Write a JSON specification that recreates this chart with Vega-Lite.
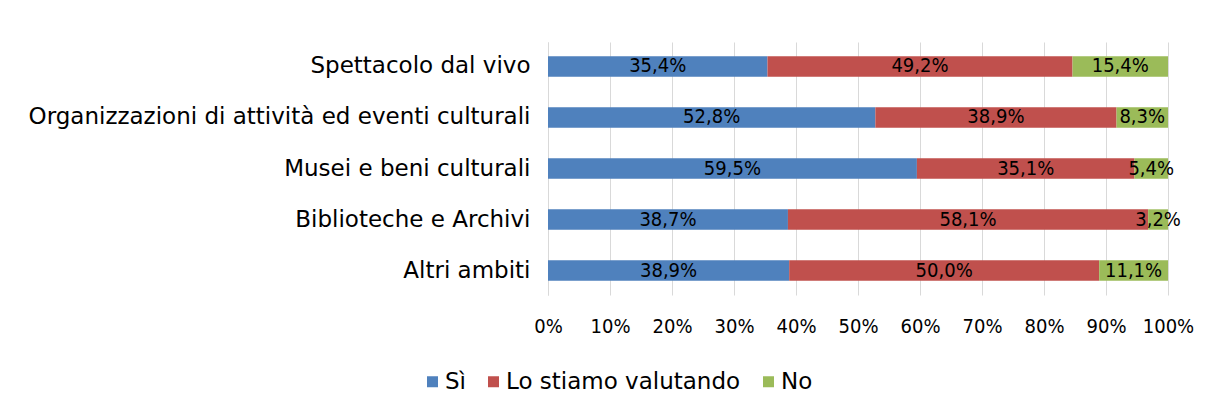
{
  "$schema": "https://vega.github.io/schema/vega-lite/v6.json",
  "width": 620,
  "height": 253,
  "autosize": {"type": "none"},
  "padding": {"left": 548, "top": 42, "right": 44, "bottom": 113},
  "background": "white",
  "config": {
    "locale": {"number": {"decimal": ",", "thousands": ".", "grouping": [3], "currency": ["€", ""]}},
    "view": {"stroke": null}
  },
  "data": {
    "values": [
      {"ambito": "Spettacolo dal vivo", "risposta": "Sì", "k": 1, "quota": 0.354},
      {"ambito": "Spettacolo dal vivo", "risposta": "Lo stiamo valutando", "k": 2, "quota": 0.492},
      {"ambito": "Spettacolo dal vivo", "risposta": "No", "k": 3, "quota": 0.154},
      {"ambito": "Organizzazioni di attività ed eventi culturali", "risposta": "Sì", "k": 1, "quota": 0.528},
      {"ambito": "Organizzazioni di attività ed eventi culturali", "risposta": "Lo stiamo valutando", "k": 2, "quota": 0.389},
      {"ambito": "Organizzazioni di attività ed eventi culturali", "risposta": "No", "k": 3, "quota": 0.083},
      {"ambito": "Musei e beni culturali", "risposta": "Sì", "k": 1, "quota": 0.595},
      {"ambito": "Musei e beni culturali", "risposta": "Lo stiamo valutando", "k": 2, "quota": 0.351},
      {"ambito": "Musei e beni culturali", "risposta": "No", "k": 3, "quota": 0.054},
      {"ambito": "Biblioteche e Archivi", "risposta": "Sì", "k": 1, "quota": 0.387},
      {"ambito": "Biblioteche e Archivi", "risposta": "Lo stiamo valutando", "k": 2, "quota": 0.581},
      {"ambito": "Biblioteche e Archivi", "risposta": "No", "k": 3, "quota": 0.032},
      {"ambito": "Altri ambiti", "risposta": "Sì", "k": 1, "quota": 0.389},
      {"ambito": "Altri ambiti", "risposta": "Lo stiamo valutando", "k": 2, "quota": 0.500},
      {"ambito": "Altri ambiti", "risposta": "No", "k": 3, "quota": 0.111}
    ]
  },
  "encoding": {
    "y": {
      "field": "ambito",
      "type": "nominal",
      "sort": ["Spettacolo dal vivo", "Organizzazioni di attività ed eventi culturali", "Musei e beni culturali", "Biblioteche e Archivi", "Altri ambiti"],
      "scale": {"paddingInner": 0.6, "paddingOuter": 0.28},
      "axis": {
        "title": null,
        "domain": true,
        "domainColor": "#d9d9d9",
        "domainWidth": 1,
        "ticks": false,
        "grid": false,
        "labelFont": "DejaVu Sans",
        "labelFontSize": 23,
        "labelColor": "#000000",
        "labelPadding": 18,
        "labelLimit": 600
      }
    },
    "order": {"field": "k", "type": "quantitative"}
  },
  "layer": [
    {
      "mark": {"type": "bar"},
      "encoding": {
        "x": {
          "field": "quota",
          "type": "quantitative",
          "stack": "normalize",
          "scale": {"domain": [0, 1]},
          "axis": {
            "title": null,
            "format": ".0%",
            "values": [0, 0.1, 0.2, 0.3, 0.4, 0.5, 0.6, 0.7, 0.8, 0.9, 1],
            "grid": true,
            "gridColor": "#d9d9d9",
            "gridWidth": 1,
            "domain": false,
            "ticks": false,
            "labelFont": "DejaVu Sans Condensed, Liberation Sans, sans-serif",
            "labelFontSize": 20,
            "labelColor": "#000000",
            "labelPadding": 21,
            "labelFlush": false
          }
        },
        "color": {
          "field": "risposta",
          "type": "nominal",
          "sort": ["Sì", "Lo stiamo valutando", "No"],
          "scale": {"domain": ["Sì", "Lo stiamo valutando", "No"], "range": ["#4F81BD", "#C0504D", "#9BBB59"]},
          "legend": {
            "title": null,
            "orient": "none",
            "direction": "horizontal",
            "legendX": -127,
            "legendY": 328,
            "symbolType": "square",
            "symbolSize": 121,
            "symbolStrokeWidth": 0,
            "labelFont": "DejaVu Sans",
            "labelFontSize": 23,
            "labelColor": "#000000",
            "labelOffset": 1,
            "labelLimit": 400,
            "columnPadding": 16
          }
        }
      }
    },
    {
      "mark": {"type": "text", "align": "center", "baseline": "middle", "font": "DejaVu Sans Condensed, Liberation Sans, sans-serif", "fontSize": 20, "color": "#000000"},
      "encoding": {
        "x": {"field": "quota", "type": "quantitative", "stack": "normalize", "bandPosition": 0.5},
        "text": {"field": "quota", "type": "quantitative", "format": ".1%"}
      }
    }
  ]
}
